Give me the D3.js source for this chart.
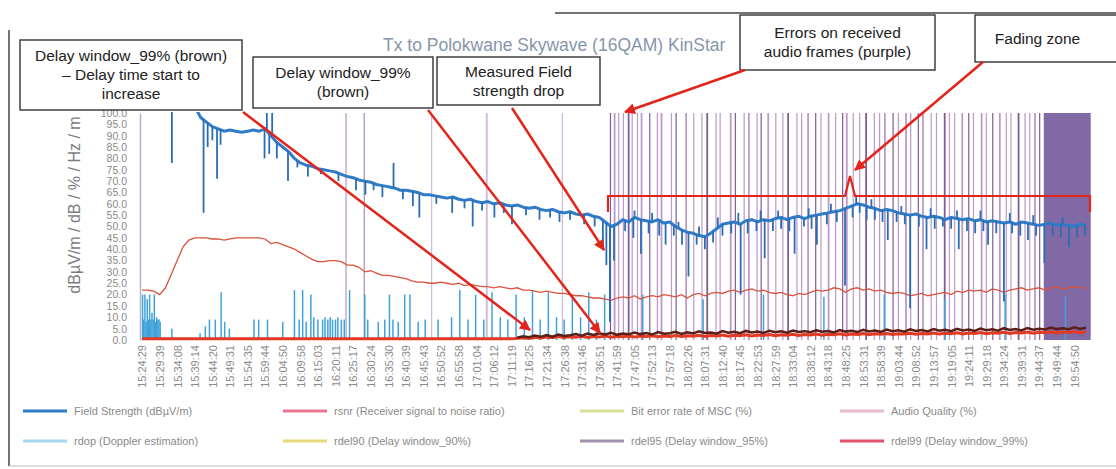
<!DOCTYPE html>
<html><head><meta charset="utf-8">
<script src="https://cdn.jsdelivr.net/npm/d3@7"></script>
<style>body{margin:0;background:#fff;}svg{display:block;font-family:"Liberation Sans",Arial,sans-serif;}</style>
</head><body><svg id="c" width="1116" height="469"></svg>
<script>
// ---------------- DATA ----------------
const timeLabels = ["15:24:29","15:29:39","15:34:08","15:39:14","15:44:20","15:49:31","15:54:35","15:59:44","16:04:50","16:09:58",
"16:15:03","16:20:11","16:25:17","16:30:24","16:35:30","16:40:39","16:45:43","16:50:52","16:55:58","17:01:04",
"17:06:12","17:11:19","17:16:25","17:21:34","17:26:38","17:31:46","17:36:51","17:41:59","17:47:05","17:52:13",
"17:57:18","18:02:26","18:07:31","18:12:40","18:17:45","18:22:53","18:27:59","18:33:04","18:38:12","18:43:18",
"18:48:25","18:53:31","18:58:39","19:03:44","19:08:52","19:13:57","19:19:05","19:24:11","19:29:18","19:34:24",
"19:39:31","19:44:37","19:49:44","19:54:50"];
const yTicks = [0,5,10,15,20,25,30,35,40,45,50,55,60,65,70,75,80,85,90,95,100];

// Field strength (dBuV/m), base level per sample
const fieldStrength = [
null,null,null,null,103,103,103,103,103,103,
98,96,94,93,92,92.5,92,91.5,92,92.5,
92,93,90,87,85,83,80,78,77,76.5,
75.5,75,74.5,74,73,72,71.5,70.5,70,69.5,
68.5,68,67.5,67,66,66,65.5,65,64,64,
63.5,63,62.5,63,62,61.5,62,61,60.5,61,
60,60.5,59.5,59,59.5,58.5,58,58.5,57.5,57,
57.5,56.5,56,56.5,55.5,55,55.5,54.5,54,52,
50,51,53,52,54,53,52.5,52,53,51.5,
52,50,48.5,47.5,47,46,45.5,47,49,51,
51.5,52,51,52.5,53,52,53,52.5,53.5,54,
53,54,54.5,53.5,54.5,55,55.5,56,56.5,57,
58,59,60,59.5,58.5,58,57,57.5,57,56,
55.5,55,55.5,54.5,54,54.5,54,53,54,53.5,
53,53.5,52.5,53,52,52.5,52,51.5,52,51,
52,51.5,51,50.5,51,51.5,50.5,51,50.5,50,
51,50.5];
// Field strength short excursions (dips / peaks): [sample position, value]
const fieldSpikes = [[5.1,78],[10.5,56],[11.2,85],[12.0,88],[12.8,71],[13.4,86],[20.9,80],[21.3,100],[21.7,82],[22.2,100],[23.0,80],
[24.9,70],[26.5,76],[28.3,72],[30.5,73],[33.5,70],[36.5,66],[38.1,64],[39.5,66],[41.0,63],[42.9,78],[44.5,62],[46.2,59],[47.3,54],
[50.2,60],[52.9,56],[55.0,58],[56.4,50],[58.0,57],[60.1,54],[61.7,56],[63.1,51],[65.5,55],[67.8,53],[69.6,54],[71.2,52],[73.0,53],
[75.4,51],[77.2,50],[78.6,40],[79.2,33],[79.8,8],[80.5,35],
[82.4,48],[83.8,45],[85.1,38],[86.4,47],[88.2,46],[89.3,42],[90.7,46],[92.1,42],[93.2,28],[94.6,42],[96.0,40],[97.4,43],[99.0,46],
[100.5,47],[102.1,20],[103.3,47],[104.8,48],[106.2,36],[107.6,48],[109.0,49],[110.4,48],[111.3,38],[112.9,50],[114.2,49],[115.1,42],
[116.8,51],[118.5,52],[119.9,24],[121.2,54],[122.4,56],[123.6,53],[125.0,53],[126.3,52],[127.2,44],[128.7,52],[130.1,51],[131.0,14],
[132.5,50],[133.8,40],[135.2,49],[136.6,50],[138.0,49],[139.3,40],[140.7,48],[142.1,47],[143.5,48],[144.3,42],[145.7,47],[147.0,17],
[148.4,47],[149.8,46],[151.1,44],[152.5,46],[153.9,34],[155.3,46],[156.7,45],[158.1,41],[159.5,45],[160.8,46],
[84.0,57],[87.0,56],[91.5,52],[95.0,50],[98.2,54],[101.7,56],[105.5,57],[108.5,57],[113.7,58],[117.5,60],[121.8,64],[124.4,62],
[129.5,59],[134.5,58],[139.0,57],[143.0,57],[148.0,56],[152.0,55],[157.0,54]];

// rsnr (receiver signal to noise ratio)
const rsnr = [
22,22,21.5,20,23,29,35,41,44,45,
45,45,44.5,44.5,44,44.5,45,45,45,45,
45,44.5,42.5,43,42,41,40,38.5,37,35.5,
34.5,34.5,35,35,34.5,33,33,32,30,30.5,
29.5,28.5,28.5,28,27.5,27,26,25.5,25.5,25,
25,25.5,25,24.5,25,24,24.5,24,23.5,23.5,
23,23.5,23,22.5,23,22,22,21.5,21,21.5,
21,20.5,20.5,20,19.5,19.5,19,18.5,18.5,18,
17.5,18.5,19,18.5,19.5,18,19,19.5,19,20,
19.5,19,20,18.5,20,20.5,19.5,20.5,21,20.5,
21.5,22,21,22,22.5,21.5,22,21,20.5,21,
20,19.5,20.5,20,21,22,21.5,22,23,22.5,
21,22.5,23,22,22.5,21.5,22,21,20.5,21,
20.5,19.5,20,20.5,19.5,20,20.5,21,20,21.5,
21,22,21.5,22,21,22.5,22,21,22,22.5,
23,22,22.5,23,22,23,23.5,22.5,23,23.5,
23,23];

// rdel99 (delay window 99%) - bottom line
const rdel99 = [
0.5,0.5,0.5,0.5,0.5,0.5,0.5,0.5,0.5,0.5,
0.5,0.5,0.5,0.5,0.5,0.5,0.5,0.5,0.5,0.5,
0.5,0.5,0.5,0.5,0.5,0.5,0.5,0.5,0.5,0.5,
0.5,0.5,0.5,0.5,0.5,0.5,0.5,0.5,0.5,0.5,
0.5,0.5,0.5,0.5,0.5,0.5,0.5,0.5,0.5,0.5,
0.5,0.5,0.5,0.5,0.5,0.5,0.5,0.5,0.5,0.5,
0.5,0.5,0.5,0.5,0.8,1.0,0.7,1.2,0.9,1.3,
1.0,1.5,1.1,1.4,1.2,1.6,1.1,1.5,1.3,1.7,
1.2,1.6,1.4,1.8,1.3,1.7,1.5,1.9,1.4,1.8,
1.6,2.0,1.5,1.9,1.7,2.1,1.6,2.0,1.8,2.2,
1.7,2.1,1.9,2.3,1.8,2.2,2.0,2.4,1.9,2.3,
2.1,2.5,2.0,2.4,2.2,2.6,2.1,2.5,2.3,2.7,
2.2,2.6,2.4,2.8,2.3,2.7,2.5,2.9,2.4,2.8,
2.6,3.0,2.5,2.9,2.7,3.1,2.6,3.0,2.8,3.2,
2.7,3.1,2.9,3.3,2.8,3.2,3.0,3.4,2.9,3.3,
3.1,3.5,3.0,3.4,3.2,3.6,3.1,3.5,3.3,3.7,
3.2,3.6];

// rdel95 (delay window 95%) - dark band near bottom
const rdel95 = [
null,null,null,null,null,null,null,null,null,null,
null,null,null,null,null,null,null,null,null,null,
null,null,null,null,null,null,null,null,null,null,
null,null,null,null,null,null,null,null,null,null,
null,null,null,null,null,null,null,null,null,null,
null,null,null,null,null,null,null,null,null,null,
null,null,null,null,1.0,1.6,1.2,2.0,1.4,2.2,
1.5,2.4,1.8,2.1,2.6,1.9,2.8,2.2,3.0,2.4,
3.2,2.3,2.9,2.5,3.3,2.6,3.1,2.4,3.5,2.8,
3.0,3.6,2.7,3.4,2.9,3.8,3.1,3.3,2.8,3.9,
3.2,3.6,3.0,4.0,3.3,3.7,3.1,4.1,3.4,3.8,
3.2,4.2,3.5,3.9,3.4,4.3,3.6,4.0,3.3,4.4,
3.7,4.1,3.5,4.5,3.8,4.2,3.6,4.6,3.9,4.3,
3.7,4.7,4.0,4.4,3.8,4.8,4.1,4.5,3.9,4.9,
4.2,4.6,4.0,5.0,4.3,4.7,4.1,5.2,4.4,4.8,
4.2,5.3,4.5,5.0,4.6,5.5,4.8,5.2,4.7,5.6,
4.9,5.4];

// rdop (Doppler estimation) spikes: [sample position, value]
const rdopSpikes = [[0.1,20],[0.3,9],[0.5,20],[0.7,8],[0.9,18],[1.1,9],[1.3,20],[1.5,9],[1.7,12],[1.9,9],[2.1,20],[2.3,8],[2.5,10],[2.7,9],[2.9,9],[3.1,8],
[5.1,5],[9.9,3],[10.8,6],[11.5,9],[12.5,9],[13.5,21],[14.1,8],[14.9,5],
[19.1,9],[19.9,9],[21.4,9],[24.0,8],[26.0,22],[26.8,9],[27.4,22],[28.0,8],[28.8,20],[29.3,10],
[30.0,9],[30.8,9],[31.2,10],[31.7,9],[32.1,10],[32.5,9],[33.0,9],[33.4,10],[34.0,9],[34.5,9],
[35.4,22],[38.0,20],[38.5,9],[40.3,8],[41.4,9],[42.2,20],[42.8,9],[43.7,8],[44.8,20],[45.7,20],[47.1,8],[48.3,9],
[50.5,9],[52.8,10],[54.2,22],[55.6,9],[56.9,20],[58.3,9],[59.7,21],[61.1,10],[62.4,9],[63.8,20],
[65.2,10],[66.6,22],[67.9,9],[69.3,21],[70.7,10],[72.0,9],[73.4,20],[74.8,10],[76.2,21],[77.5,9],[78.9,20],
[85.4,20],[95.7,18],[106,20],[116.3,19],[126.6,20],[136.9,18],[147.2,20],[157.5,19]];

// Audio quality drops (vertical purple lines) at sample positions
const audioDrops = [34.8,37.9,49.4,58.8,71.7,
79.9,80.6,81.3,82.1,83.0,83.6,84.5,85.2,86.6,87.9,88.6,90.3,91.1,92.8,94.1,95.5,96.4,97.9,98.6,
100.4,101.2,102.7,103.5,104.9,105.6,106.8,108.1,109.3,110.2,111.7,112.5,113.6,114.9,115.8,117.1,
118.3,119.5,120.2,121.3,122.4,123.5,124.9,125.8,126.7,128.1,129.0,130.3,131.1,132.4,133.2,134.6,
135.5,136.9,137.7,138.6,139.9,141.0,141.8,143.2,144.0,145.1,146.3,147.4,148.2,149.5,150.6,151.4,152.3,153.1];
const audioBlock = [153.8, 161.8];

// Legend
const legendNames = ["Field Strength (dBµV/m)","rsnr (Receiver signal to noise ratio)","Bit error rate of MSC (%)","Audio Quality (%)",
"rdop (Doppler estimation)","rdel90 (Delay window_90%)","rdel95 (Delay window_95%)","rdel99 (Delay window_99%)"];
const legendColors = ["#2f7bc8","#e87890","#dcdf9a","#e3bcd0","#a9d6ef","#e6d97a","#9f93ab","#e2506a"];

// Annotations
const noteBoxes = [
 {x:20,y:40,w:222,h:70,lines:["Delay window_99% (brown)","– Delay time start to","increase"]},
 {x:253,y:57,w:180,h:51,lines:["Delay window_99%","(brown)"]},
 {x:437,y:57,w:163,h:48,lines:["Measured Field","strength drop"]},
 {x:740,y:15,w:195,h:55,lines:["Errors on received","audio frames (purple)"]},
 {x:975,y:15,w:145,h:47,lines:["Fading zone"]}
];
const noteArrows = [
 [243,112,530,330],[428,110,600,333],[512,108,604,250],[745,70,625,112],[983,62,855,170]
];
const bracketPts = [[608,212],[608,196],[845,196],[850,176],[855,196],[1090,196],[1090,212]];

// ---------------- DRAW ----------------
const svg = d3.select('#c');
const x = d3.scaleLinear().domain([0, 161]).range([142, 1086]);
const y = d3.scaleLinear().domain([0, 100]).range([340, 113]);

const defs = svg.append('defs');
defs.append('clipPath').attr('id','pc').append('rect').attr('x',139).attr('y',112).attr('width',953).attr('height',232);
defs.append('marker').attr('id','arr').attr('viewBox','0 0 10 10').attr('refX',9).attr('refY',5)
  .attr('markerWidth',13).attr('markerHeight',11).attr('markerUnits','userSpaceOnUse').attr('orient','auto')
  .append('path').attr('d','M0,0 L10,5 L0,10 z').attr('fill','#e3241b');

// outer frame
svg.append('line').attr('x1',9).attr('x2',9).attr('y1',30).attr('y2',466).attr('stroke','#444').attr('stroke-width',1.5);
svg.append('line').attr('x1',555).attr('x2',1116).attr('y1',13).attr('y2',13).attr('stroke','#444').attr('stroke-width',1.5);
svg.append('line').attr('x1',9).attr('x2',1116).attr('y1',466).attr('y2',466).attr('stroke','#bbb').attr('stroke-width',1);

// title (its end is hidden behind the annotation box in the reference)
svg.append('text').attr('x',383).attr('y',51).attr('font-size',17.5).attr('fill','#8795aa')
  .text('Tx to Polokwane Skywave (16QAM) KinStar');

const plot = svg.append('g').attr('clip-path','url(#pc)');

// audio quality drops
plot.append('g').selectAll('line').data(audioDrops).join('line')
  .attr('x1',d=>x(d)).attr('x2',d=>x(d)).attr('y1',y(100)).attr('y2',y(0))
  .attr('stroke',(d,i)=> i%4===1 ? '#6c3f83' : '#b088c0').attr('stroke-width',(d,i)=> i%3===0 ? 1.8 : 1.2)
  .attr('opacity',(d,i)=> i<5 ? 0.6 : 0.85);
plot.append('rect').attr('x',x(audioBlock[0])).attr('width',x(audioBlock[1])-x(audioBlock[0]))
  .attr('y',y(100)).attr('height',y(0)-y(100)).attr('fill','#6a4f94').attr('opacity',0.85);

// doppler spikes
plot.append('g').selectAll('line').data(rdopSpikes).join('line')
  .attr('x1',d=>x(d[0])).attr('x2',d=>x(d[0])).attr('y1',y(0)).attr('y2',d=>y(d[1]))
  .attr('stroke','#3fa2da').attr('stroke-width',1.5);

const line = d3.line().defined(d=>d!=null).x((d,i)=>x(i)).y(d=>y(d));
function baseAt(arr, p){
  const i0 = Math.floor(p), i1 = Math.min(arr.length-1, i0+1);
  const a = arr[i0] == null ? arr[i1] : arr[i0], b = arr[i1] == null ? a : arr[i1];
  return a + (b - a) * (p - i0);
}

plot.append('path').datum(rsnr).attr('d',line).attr('fill','none').attr('stroke','#d9533d').attr('stroke-width',1.3);
plot.append('path').datum(fieldStrength).attr('d',line).attr('fill','none').attr('stroke','#2f7bc8').attr('stroke-width',3).attr('stroke-linejoin','round');
plot.append('g').selectAll('line').data(fieldSpikes).join('line')
  .attr('x1',d=>x(d[0])).attr('x2',d=>x(d[0])).attr('y1',d=>y(baseAt(fieldStrength,d[0]))).attr('y2',d=>y(d[1]))
  .attr('stroke','#2a6db5').attr('stroke-width',1.8);
plot.append('path').datum(rdel99).attr('d',line).attr('fill','none').attr('stroke','#e23a22').attr('stroke-width',3);
plot.append('path').datum(rdel95).attr('d',line).attr('fill','none').attr('stroke','#5a1e18').attr('stroke-width',2.5);

// axes
const yAxis = svg.append('g').attr('transform','translate(140,0)')
  .call(d3.axisLeft(y).tickValues(yTicks).tickFormat(d3.format('.1f')).tickSize(0).tickPadding(13));
yAxis.select('.domain').attr('stroke','#a9b4c8').attr('stroke-width',1.5);
yAxis.selectAll('text').attr('font-size',10.5).attr('fill','#8a8a8a').attr('font-family','"Liberation Sans",Arial');

const xAxis = svg.append('g').attr('transform','translate(0,341)')
  .call(d3.axisBottom(x).tickValues(timeLabels.map((t,k)=>k*3)).tickFormat((d,k)=>timeLabels[k]).tickSize(0));
xAxis.select('.domain').remove();
xAxis.selectAll('text').attr('font-size',11).attr('fill','#8a8a8a').attr('font-family','"Liberation Sans",Arial')
  .attr('text-anchor','end').attr('transform','rotate(-90)').attr('x',-4).attr('y',0).attr('dy','0.35em');

// y axis title
svg.append('text').attr('transform','translate(80,205) rotate(-90)').attr('text-anchor','middle')
  .attr('font-size',16).attr('fill','#7c7c7c').text('dBµV/m / dB / % / Hz / m');

// legend
const legX = [23,283,580,840], legY = [411,441];
const leg = svg.append('g').selectAll('g').data(legendNames).join('g')
  .attr('transform',(d,i)=>`translate(${legX[i%4]},${legY[Math.floor(i/4)]})`);
leg.append('line').attr('x1',0).attr('x2',44).attr('stroke',(d,i)=>legendColors[i]).attr('stroke-width',3);
leg.append('text').attr('x',51).attr('dy','0.35em').attr('font-size',11).attr('fill','#8a8a8a').text(d=>d);

// annotation boxes
const nb = svg.append('g').selectAll('g').data(noteBoxes).join('g');
nb.append('rect').attr('x',d=>d.x).attr('y',d=>d.y).attr('width',d=>d.w).attr('height',d=>d.h)
  .attr('fill','#fff').attr('stroke','#333').attr('stroke-width',1.4);
nb.each(function(d){
  const g = d3.select(this);
  const n = d.lines.length, lh = 19;
  const y0 = d.y + d.h/2 - (n-1)*lh/2;
  d.lines.forEach((t,i)=>{
    g.append('text').attr('x',d.x+d.w/2 - (n===1?10:0)).attr('y',y0+i*lh).attr('dy','0.35em')
      .attr('text-anchor','middle').attr('font-size',15.5).attr('fill','#222').text(t);
  });
});

// arrows and bracket
svg.append('g').selectAll('line').data(noteArrows).join('line')
  .attr('x1',d=>d[0]).attr('y1',d=>d[1]).attr('x2',d=>d[2]).attr('y2',d=>d[3])
  .attr('stroke','#e3241b').attr('stroke-width',2.5).attr('marker-end','url(#arr)');
svg.append('path').attr('d',d3.line()(bracketPts)).attr('fill','none').attr('stroke','#e3241b').attr('stroke-width',2.2);
</script></body></html>
